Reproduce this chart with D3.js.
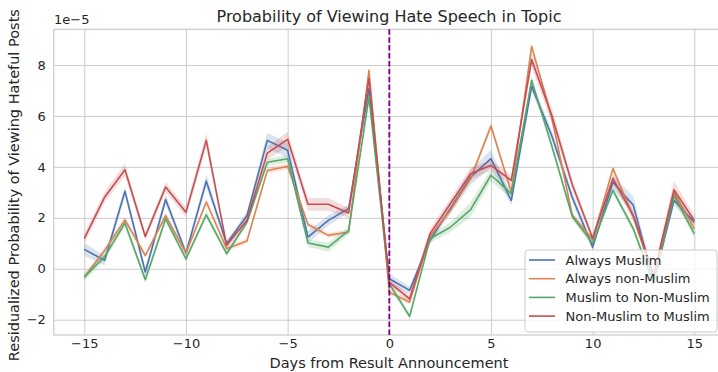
<!DOCTYPE html>
<html>
<head>
<meta charset="utf-8">
<script src="https://cdn.jsdelivr.net/npm/d3@7"></script>
<style>
  html, body { margin: 0; padding: 0; background: #fff; }
  svg { display: block; font-family: "DejaVu Sans", sans-serif; }
</style>
</head>
<body>
<svg id="chart" width="718" height="372"></svg>
<script>
// Days relative to the result announcement
const days = d3.range(-15, 16);

// Residualized probability (units of 1e-5) per group
const alwaysMuslim = [0.76, 0.33, 3.04, -0.13, 2.72, 0.61, 3.44, 0.98, 2.09, 5.04, 4.65, 1.24, 1.90, 2.36, 7.07,
  -0.39, -0.85, 1.11, 2.36, 3.60, 4.32, 2.68, 7.16, 5.20, 2.80, 0.85, 3.40, 2.49, -0.50, 2.68, 1.83];
const alwaysNonMuslim = [-0.33, 0.72, 1.92, 0.52, 2.09, 0.61, 2.62, 0.79, 1.09, 3.86, 4.02, 1.74, 1.31, 1.44, 7.79,
  -0.92, -1.31, 1.27, 2.29, 3.54, 5.60, 3.01, 8.73, 5.90, 2.10, 1.15, 3.93, 2.03, -0.30, 3.01, 1.57];
const muslimToNon = [-0.33, 0.48, 1.79, -0.43, 1.96, 0.39, 2.12, 0.59, 1.83, 4.18, 4.32, 1.01, 0.85, 1.50, 6.74,
  -0.59, -1.87, 1.18, 1.63, 2.32, 3.67, 2.95, 7.40, 4.80, 2.05, 1.00, 3.08, 1.57, -0.60, 2.88, 1.37];
const nonToMuslim = [1.18, 2.81, 3.89, 1.27, 3.21, 2.22, 5.04, 0.92, 1.90, 4.54, 5.08, 2.53, 2.53, 2.19, 7.47,
  -0.53, -1.18, 1.37, 2.55, 3.73, 4.06, 3.47, 8.21, 6.00, 3.30, 1.20, 3.54, 2.09, -0.25, 3.10, 1.90];

// Half-widths of the confidence bands (same units)
const ciAlwaysMuslim = [0.25, 0.2, 0.2, 0.2, 0.2, 0.15, 0.25, 0.15, 0.15, 0.3, 0.3, 0.25, 0.2, 0.15, 0.2,
  0.2, 0.15, 0.15, 0.2, 0.3, 0.35, 0.2, 0.2, 0.2, 0.2, 0.15, 0.25, 0.35, 0.25, 0.2, 0.15];
const ciAlwaysNonMuslim = [0.12, 0.12, 0.12, 0.1, 0.12, 0.1, 0.12, 0.1, 0.1, 0.12, 0.12, 0.12, 0.1, 0.1, 0.15,
  0.1, 0.1, 0.1, 0.12, 0.12, 0.15, 0.12, 0.15, 0.12, 0.12, 0.1, 0.12, 0.12, 0.12, 0.15, 0.12];
const ciMuslimToNon = [0.15, 0.15, 0.15, 0.15, 0.15, 0.12, 0.15, 0.12, 0.12, 0.15, 0.15, 0.15, 0.18, 0.15, 0.15,
  0.12, 0.12, 0.15, 0.2, 0.3, 0.25, 0.2, 0.15, 0.15, 0.15, 0.12, 0.15, 0.15, 0.15, 0.2, 0.15];
const ciNonToMuslim = [0.2, 0.2, 0.25, 0.15, 0.2, 0.2, 0.3, 0.15, 0.15, 0.25, 0.3, 0.25, 0.25, 0.2, 0.2,
  0.15, 0.15, 0.2, 0.2, 0.25, 0.2, 0.2, 0.3, 0.3, 0.2, 0.15, 0.2, 0.2, 0.2, 0.35, 0.2];

const seriesNames = ["Always Muslim", "Always non-Muslim", "Muslim to Non-Muslim", "Non-Muslim to Muslim"];
const seriesColors = ["#4C72B0", "#DD8452", "#55A868", "#C44E52"];
const seriesValues = [alwaysMuslim, alwaysNonMuslim, muslimToNon, nonToMuslim];
const seriesCI = [ciAlwaysMuslim, ciAlwaysNonMuslim, ciMuslimToNon, ciNonToMuslim];

const xTicks = [-15, -10, -5, 0, 5, 10, 15];
const yTicks = [-2, 0, 2, 4, 6, 8];

const plot = { left: 53.8, right: 724.8, top: 29.3, bottom: 335 };
const x = d3.scaleLinear().domain([-16.5, 16.5]).range([plot.left, plot.right]);
const y = d3.scaleLinear().domain([-2.6, 9.4]).range([plot.bottom, plot.top]);

const svg = d3.select("#chart");
const grid = "#cccccc";
const ink = "#262626";

svg.append("defs").append("clipPath").attr("id", "plotClip")
  .append("rect")
  .attr("x", plot.left).attr("y", plot.top)
  .attr("width", plot.right - plot.left).attr("height", plot.bottom - plot.top);

// Grid lines via axes with full-length ticks
const xGrid = svg.append("g")
  .attr("transform", `translate(0,${plot.bottom})`)
  .call(d3.axisBottom(x).tickValues(xTicks).tickSize(-(plot.bottom - plot.top)).tickFormat(""));
xGrid.select(".domain").remove();
xGrid.selectAll("line").attr("stroke", grid).attr("stroke-width", 1);

const yGrid = svg.append("g")
  .attr("transform", `translate(${plot.left},0)`)
  .call(d3.axisLeft(y).tickValues(yTicks).tickSize(-(plot.right - plot.left)).tickFormat(""));
yGrid.select(".domain").remove();
yGrid.selectAll("line").attr("stroke", grid).attr("stroke-width", 1);

// Frame
svg.append("rect")
  .attr("x", plot.left).attr("y", plot.top)
  .attr("width", plot.right - plot.left).attr("height", plot.bottom - plot.top)
  .attr("fill", "none").attr("stroke", grid).attr("stroke-width", 1.25);

// Tick labels
const fmt = d => (d < 0 ? "\u2212" + Math.abs(d) : String(d));
const xLab = svg.append("g")
  .attr("transform", `translate(0,${plot.bottom})`)
  .call(d3.axisBottom(x).tickValues(xTicks).tickSize(0).tickPadding(4).tickFormat(fmt));
xLab.select(".domain").remove();
xLab.selectAll("text").attr("font-size", 13).attr("fill", ink)
  .attr("font-family", "DejaVu Sans");

const yLab = svg.append("g")
  .attr("transform", `translate(${plot.left},0)`)
  .call(d3.axisLeft(y).tickValues(yTicks).tickSize(0).tickPadding(8).tickFormat(fmt));
yLab.select(".domain").remove();
yLab.selectAll("text").attr("font-size", 13).attr("fill", ink)
  .attr("font-family", "DejaVu Sans");

// Series: band then line, per group
const layer = svg.append("g").attr("clip-path", "url(#plotClip)");
seriesValues.forEach((vals, i) => {
  const ci = seriesCI[i];
  const pts = days.map((d, k) => ({ d, v: vals[k], c: ci[k] }));
  layer.append("path")
    .datum(pts)
    .attr("fill", seriesColors[i]).attr("fill-opacity", 0.2).attr("stroke", "none")
    .attr("d", d3.area().x(p => x(p.d)).y0(p => y(p.v - p.c)).y1(p => y(p.v + p.c)));
  layer.append("path")
    .datum(pts)
    .attr("fill", "none").attr("stroke", seriesColors[i]).attr("stroke-width", 1.6)
    .attr("stroke-linejoin", "round")
    .attr("d", d3.line().x(p => x(p.d)).y(p => y(p.v)));
});

// Announcement marker
svg.append("line")
  .attr("x1", x(0)).attr("x2", x(0))
  .attr("y1", plot.top).attr("y2", plot.bottom)
  .attr("stroke", "purple").attr("stroke-width", 1.8)
  .attr("stroke-dasharray", "5.5,2.4");

// Offset text and titles
svg.append("text").attr("x", 54).attr("y", 24)
  .attr("font-size", 13).attr("fill", ink).text("1e\u22125");

svg.append("text").attr("x", 389).attr("y", 22)
  .attr("text-anchor", "middle").attr("font-size", 16).attr("fill", ink)
  .text("Probability of Viewing Hate Speech in Topic");

svg.append("text").attr("x", 389).attr("y", 368)
  .attr("text-anchor", "middle").attr("font-size", 14.5).attr("fill", ink)
  .text("Days from Result Announcement");

svg.append("text")
  .attr("transform", `translate(18.5,${(plot.top + plot.bottom) / 2 + 3}) rotate(-90)`)
  .attr("text-anchor", "middle").attr("font-size", 14.5).attr("fill", ink)
  .text("Residualized Probability of Viewing Hateful Posts");

// Legend
const leg = svg.append("g");
leg.append("rect")
  .attr("x", 525).attr("y", 250).attr("width", 192).attr("height", 82)
  .attr("rx", 3).attr("fill", "#ffffff").attr("fill-opacity", 0.8)
  .attr("stroke", grid).attr("stroke-width", 1);
seriesNames.forEach((name, i) => {
  const cy = 260 + i * 18.7;
  leg.append("line").attr("x1", 529).attr("x2", 555).attr("y1", cy).attr("y2", cy)
    .attr("stroke", seriesColors[i]).attr("stroke-width", 1.6);
  leg.append("text").attr("x", 565.5).attr("y", cy).attr("dy", "0.35em")
    .attr("font-size", 13).attr("fill", ink).text(name);
});
</script>
</body>
</html>
